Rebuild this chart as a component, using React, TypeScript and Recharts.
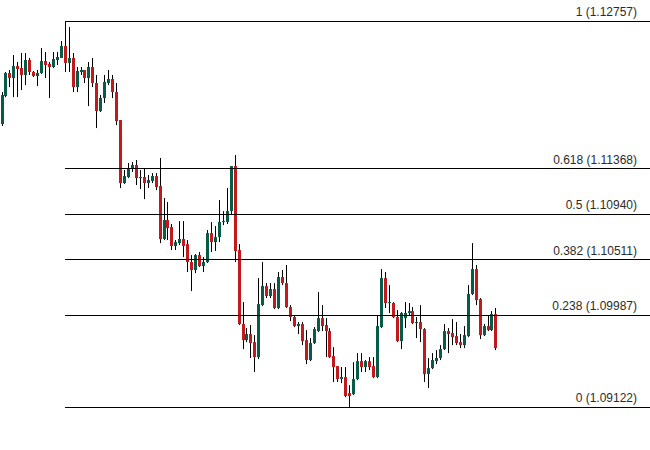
import React from 'react';
import { ComposedChart, Bar, XAxis, YAxis, ReferenceLine } from 'recharts';

const opens = [
  1.11787, 1.12051, 1.12267, 1.12220, 1.12333, 1.12314, 1.12249, 1.12390, 1.12277, 1.12239,
  1.12267, 1.12380, 1.12352, 1.12324, 1.12390, 1.12409, 1.12522, 1.12362, 1.12409, 1.12135,
  1.12277, 1.12296, 1.12220, 1.12324, 1.12173, 1.11909, 1.12032, 1.12173, 1.12211, 1.12088,
  1.11825, 1.11231, 1.11288, 1.11372, 1.11401, 1.11278, 1.11288, 1.11231, 1.11250, 1.11297,
  1.11203, 1.10704, 1.10883, 1.10817, 1.10638, 1.10666, 1.10704, 1.10656, 1.10487, 1.10412,
  1.10553, 1.10449, 1.10487, 1.10760, 1.10675, 1.10722, 1.10864, 1.10864, 1.10967, 1.11391,
  1.10600, 1.09903, 1.09752, 1.09809, 1.09733, 1.09592, 1.10082, 1.10261, 1.10167, 1.10233,
  1.10054, 1.10346, 1.10289, 1.10063, 1.09969, 1.09884, 1.09903, 1.09752, 1.09564, 1.09724,
  1.09837, 1.09959, 1.09894, 1.09837, 1.09601, 1.09507, 1.09385, 1.09404, 1.09253, 1.09243,
  1.09385, 1.09554, 1.09498, 1.09554, 1.09507, 1.09404, 1.09875, 1.10336, 1.10101, 1.10101,
  1.09969, 1.09743, 1.09959, 1.10007, 1.10025, 1.09912, 1.09922, 1.09856, 1.09432, 1.09488,
  1.09554, 1.09583, 1.09667, 1.09837, 1.09818, 1.09790, 1.09733, 1.09705, 1.09790, 1.10186,
  1.10421, 1.10138, 1.09799, 1.09884, 1.09846, 1.09997,
];

const highs = [
  1.12088, 1.12277, 1.12296, 1.12437, 1.12371, 1.12456, 1.12456, 1.12409, 1.12286, 1.12296,
  1.12503, 1.12465, 1.12371, 1.12465, 1.12465, 1.12569, 1.12757, 1.12701, 1.12456, 1.12324,
  1.12324, 1.12296, 1.12371, 1.12409, 1.12249, 1.12060, 1.12249, 1.12296, 1.12249, 1.12173,
  1.11825, 1.11354, 1.11420, 1.11429, 1.11448, 1.11354, 1.11372, 1.11307, 1.11325, 1.11325,
  1.11467, 1.11090, 1.11052, 1.10845, 1.10694, 1.10873, 1.10873, 1.10694, 1.10553, 1.10562,
  1.10581, 1.10534, 1.10788, 1.10864, 1.10826, 1.11071, 1.10967, 1.11184, 1.11391, 1.11495,
  1.10656, 1.10110, 1.09865, 1.09894, 1.09799, 1.10336, 1.10487, 1.10289, 1.10289, 1.10289,
  1.10393, 1.10412, 1.10459, 1.10082, 1.09988, 1.09922, 1.09922, 1.09846, 1.09771, 1.09875,
  1.10204, 1.10082, 1.09959, 1.09865, 1.09686, 1.09507, 1.09498, 1.09498, 1.09328, 1.09545,
  1.09630, 1.09630, 1.09564, 1.09592, 1.09592, 1.09988, 1.10421, 1.10393, 1.10270, 1.10110,
  1.10035, 1.10016, 1.10110, 1.10101, 1.10063, 1.09969, 1.10082, 1.09865, 1.09583, 1.09630,
  1.09658, 1.09705, 1.09903, 1.09865, 1.09950, 1.09922, 1.09809, 1.09884, 1.10270, 1.10666,
  1.10459, 1.10148, 1.09903, 1.09988, 1.10025, 1.10054,
];

const lows = [
  1.11768, 1.12041, 1.12135, 1.12041, 1.12041, 1.12107, 1.12154, 1.12249, 1.12230, 1.12145,
  1.12258, 1.12220, 1.12032, 1.12314, 1.12343, 1.12409, 1.12277, 1.12277, 1.12088, 1.12088,
  1.12249, 1.12173, 1.11956, 1.12135, 1.11749, 1.11900, 1.11985, 1.12154, 1.12032, 1.11777,
  1.11184, 1.11222, 1.11278, 1.11335, 1.11212, 1.11175, 1.11080, 1.11184, 1.11231, 1.11165,
  1.10666, 1.10694, 1.10694, 1.10600, 1.10600, 1.10647, 1.10534, 1.10393, 1.10214, 1.10383,
  1.10440, 1.10393, 1.10478, 1.10581, 1.10591, 1.10675, 1.10835, 1.10845, 1.10930, 1.10487,
  1.09894, 1.09667, 1.09733, 1.09583, 1.09451, 1.09573, 1.10072, 1.10148, 1.10148, 1.10044,
  1.10044, 1.10270, 1.10054, 1.09931, 1.09875, 1.09809, 1.09705, 1.09526, 1.09554, 1.09715,
  1.09828, 1.09837, 1.09592, 1.09583, 1.09357, 1.09357, 1.09347, 1.09215, 1.09122, 1.09234,
  1.09375, 1.09451, 1.09451, 1.09470, 1.09394, 1.09394, 1.09865, 1.10054, 1.10007, 1.09959,
  1.09733, 1.09667, 1.09865, 1.09988, 1.09903, 1.09771, 1.09733, 1.09357, 1.09300, 1.09479,
  1.09526, 1.09564, 1.09658, 1.09630, 1.09705, 1.09705, 1.09677, 1.09677, 1.09780, 1.10176,
  1.10082, 1.09762, 1.09790, 1.09837, 1.09837, 1.09658,
];

const closes = [
  1.12060, 1.12267, 1.12220, 1.12333, 1.12305, 1.12249, 1.12390, 1.12277, 1.12239, 1.12267,
  1.12380, 1.12343, 1.12324, 1.12399, 1.12418, 1.12522, 1.12362, 1.12409, 1.12135, 1.12286,
  1.12296, 1.12220, 1.12324, 1.12173, 1.11909, 1.12032, 1.12183, 1.12211, 1.12088, 1.11815,
  1.11231, 1.11297, 1.11372, 1.11401, 1.11278, 1.11288, 1.11231, 1.11259, 1.11297, 1.11193,
  1.10704, 1.10883, 1.10807, 1.10638, 1.10675, 1.10704, 1.10638, 1.10487, 1.10412, 1.10553,
  1.10449, 1.10487, 1.10760, 1.10675, 1.10722, 1.10864, 1.10873, 1.10967, 1.11391, 1.10591,
  1.09903, 1.09752, 1.09809, 1.09724, 1.09592, 1.10091, 1.10261, 1.10167, 1.10233, 1.10054,
  1.10346, 1.10289, 1.10063, 1.09969, 1.09884, 1.09903, 1.09743, 1.09564, 1.09724, 1.09856,
  1.09959, 1.09884, 1.09837, 1.09592, 1.09498, 1.09385, 1.09404, 1.09225, 1.09225, 1.09385,
  1.09554, 1.09498, 1.09554, 1.09498, 1.09404, 1.09884, 1.10336, 1.10101, 1.10110, 1.09969,
  1.09743, 1.10007, 1.10007, 1.10025, 1.09912, 1.09922, 1.09856, 1.09432, 1.09488, 1.09564,
  1.09583, 1.09667, 1.09837, 1.09809, 1.09780, 1.09724, 1.09705, 1.09799, 1.10186, 1.10421,
  1.10129, 1.09799, 1.09884, 1.09846, 1.09997, 1.09677,
];

// fibonacci retracement drawn from the swing high (candle 16) to the right edge
const fibRatios = ['1', '0.618', '0.5', '0.382', '0.238', '0'];
const fibPrices = [1.12757, 1.11368, 1.1094, 1.10511, 1.09987, 1.09122];
const fibStart = 16;
const emptySlots = 39; // free space right of the last candle

const W = 650;
const H = 450;
const UP = '#075b47';
const DOWN = '#c3191d';

const data = [
  ...opens.map((o, i) => ({ i, o, h: highs[i], l: lows[i], c: closes[i], range: [lows[i], highs[i]] })),
  ...Array.from({ length: emptySlots }, (_, k) => ({ i: opens.length + k, range: null })),
];
const lastSlot = data.length - 1;

function Candle(props: any) {
  const { x, y, width, height, payload } = props;
  if (!payload || payload.o == null) return null;
  const top = Math.min(y, y + height);
  const bot = Math.max(y, y + height);
  const span = payload.h - payload.l || 1;
  const k = (bot - top) / span;
  const bTop = top + (payload.h - Math.max(payload.o, payload.c)) * k;
  const bBot = top + (payload.h - Math.min(payload.o, payload.c)) * k;
  const left = Math.round(x + width / 2 - 1.5);
  const color = payload.c >= payload.o ? UP : DOWN;
  return (
    <g>
      <rect x={left + 1} y={top} width={1} height={Math.max(bot - top, 1)} fill="#000" />
      <rect x={left} y={bTop} width={3} height={Math.max(bBot - bTop, 1)} fill={color} />
    </g>
  );
}

function FibLine(p: any) {
  const y = Math.round(p.y1 - 0.1) + 0.5;
  return <line x1={Math.round(p.x1)} x2={p.x2 + 3} y1={y} y2={y} stroke="#000" strokeWidth={1} />;
}

function fibLabel(text: string) {
  return (props: any) => {
    const vb = props.viewBox || {};
    return (
      <text
        x={vb.x + vb.width - 13}
        y={vb.y - 5}
        textAnchor="end"
        fontSize={12}
        fill="#2b2b2b"
        fontFamily="'Liberation Sans', Arial, sans-serif"
      >
        {text}
      </text>
    );
  };
}

export default function App() {
  return (
    <div style={{ width: W, height: H, background: '#fff', overflow: 'hidden' }}>
      <style>{'body{margin:0}'}</style>
      <ComposedChart
        width={W}
        height={H}
        data={data}
        margin={{ top: 0, right: -2, bottom: 0, left: 0 }}
        barCategoryGap={0}
        barGap={0}
      >
        <XAxis dataKey="i" type="category" hide />
        <YAxis type="number" hide domain={[1.08717, 1.12955]} allowDataOverflow />
        {fibPrices.map((p, idx) => (
          <ReferenceLine
            key={fibRatios[idx]}
            segment={[{ x: fibStart, y: p }, { x: lastSlot, y: p }]}
            shape={FibLine}
            ifOverflow="visible"
            label={fibLabel(`${fibRatios[idx]} (${p.toFixed(5)})`)}
          />
        ))}
        <Bar dataKey="range" shape={Candle} isAnimationActive={false} />
      </ComposedChart>
    </div>
  );
}
